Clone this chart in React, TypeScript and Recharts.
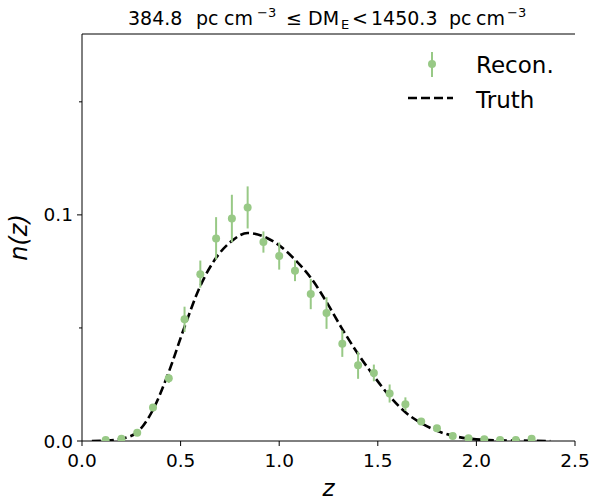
import {
  ComposedChart,
  Line,
  Scatter,
  ErrorBar,
  XAxis,
  YAxis,
  ReferenceLine,
} from "recharts";

const zRecon = [
  0.12, 0.2, 0.28, 0.36, 0.44, 0.52, 0.6, 0.68, 0.76, 0.84, 0.92, 1.0, 1.08,
  1.16, 1.24, 1.32, 1.4, 1.48, 1.56, 1.64, 1.72, 1.8, 1.88, 1.96, 2.04, 2.12,
  2.2, 2.28,
];
const nRecon = [
  0.0004, 0.001, 0.0037, 0.0148, 0.0277, 0.0538, 0.0738, 0.0896, 0.0984,
  0.1033, 0.088, 0.0818, 0.0753, 0.065, 0.0566, 0.043, 0.0335, 0.0301, 0.021,
  0.0163, 0.0086, 0.0056, 0.0022, 0.0012, 0.0008, 0.0004, 0.0004, 0.001,
];
const errRecon = [
  0.0002, 0.0003, 0.0008, 0.0012, 0.002, 0.0056, 0.006, 0.0094, 0.0105,
  0.0093, 0.0047, 0.006, 0.0046, 0.0067, 0.007, 0.0058, 0.006, 0.0037, 0.004,
  0.003, 0.001, 0.0008, 0.0004, 0.0003, 0.0002, 0.0001, 0.0001, 0.0002,
];

const zTruth = [
  0.05, 0.12, 0.2, 0.28, 0.36, 0.44, 0.52, 0.6, 0.68, 0.76, 0.84, 0.92, 1.0,
  1.08, 1.16, 1.24, 1.32, 1.4, 1.48, 1.56, 1.64, 1.72, 1.8, 1.88, 1.96, 2.04,
  2.12, 2.2, 2.3, 2.375,
];
const nTruth = [
  0, 0.0002, 0.001, 0.0039, 0.0138, 0.0305, 0.0505, 0.0686, 0.081, 0.0885,
  0.092, 0.0905, 0.0865, 0.0802, 0.0722, 0.0615, 0.0495, 0.0385, 0.0287,
  0.0198, 0.0127, 0.0079, 0.0045, 0.0023, 0.0011, 0.0005, 0.0003, 0.0002,
  0.0001, 0,
];

const xTicks = [0, 0.5, 1.0, 1.5, 2.0, 2.5];
const yTicks = [0, 0.05, 0.1, 0.15];
const yLabelled = [0, 0.1];
const yMax = 0.18;

const GREEN = "#98c986";
const FONT = "'DejaVu Sans', sans-serif";

const reconData = zRecon.map((z, i) => ({ z, n: nRecon[i], err: errRecon[i] }));
const truthData = zTruth.map((z, i) => ({ z, n: nTruth[i] }));

// major ticks get a label, minor ones are just shorter marks
const YTick = (props: any) => {
  const { x, y, payload } = props;
  const major = yLabelled.includes(payload.value);
  return (
    <g>
      <line x1={x - (major ? 5 : 3)} x2={x} y1={y} y2={y} stroke="#000" strokeWidth={1} />
      {major && (
        <text
          x={x - 9}
          y={y}
          textAnchor="end"
          dominantBaseline="central"
          fontSize={18.5}
          fontFamily={FONT}
          fill="#000"
        >
          {payload.value.toFixed(1)}
        </text>
      )}
    </g>
  );
};

const Dot = (props: any) => <circle cx={props.cx} cy={props.cy} r={4} fill={GREEN} />;

export default function App() {
  return (
    <div style={{ position: "absolute", left: 0, top: 0, width: 594, height: 502, background: "#fff" }}>
      <ComposedChart
        width={594}
        height={502}
        margin={{ top: 34, right: 19, bottom: 0, left: 10 }}
        style={{ fontFamily: FONT }}
      >
        <XAxis
          xAxisId="b"
          dataKey="z"
          type="number"
          domain={[0, 2.5]}
          ticks={xTicks}
          tickFormatter={(v: number) => v.toFixed(1)}
          height={61}
          tickSize={5}
          tickMargin={8}
          stroke="#000"
          tick={{ fill: "#000", fontSize: 18.5 }}
          allowDataOverflow
          label={{
            value: "z",
            position: "insideBottom",
            offset: 6,
            fontSize: 23,
            fontStyle: "italic",
            fill: "#000",
          }}
        />
        <YAxis
          yAxisId="l"
          type="number"
          domain={[0, yMax]}
          ticks={yTicks}
          width={72}
          tickSize={0}
          tickMargin={0}
          tickLine={false}
          tick={YTick}
          stroke="#000"
          allowDataOverflow
          label={{
            value: "n(z)",
            angle: -90,
            position: "insideLeft",
            offset: 8,
            fontSize: 24,
            fontStyle: "italic",
            fill: "#000",
            style: { textAnchor: "middle" },
          }}
        />
        <YAxis yAxisId="r" orientation="right" type="number" domain={[0, yMax]} width={0} tick={false} stroke="#000" />
        <ReferenceLine xAxisId="b" yAxisId="l" y={yMax} stroke="#000" strokeWidth={1} />
        <Line
          xAxisId="b"
          yAxisId="l"
          data={truthData}
          dataKey="n"
          type="monotone"
          stroke="#000"
          strokeWidth={2.6}
          strokeDasharray="9 4"
          dot={false}
          activeDot={false}
          isAnimationActive={false}
        />
        <Scatter
          xAxisId="b"
          yAxisId="l"
          data={reconData}
          dataKey="n"
          fill={GREEN}
          shape={Dot}
          isAnimationActive={false}
        >
          <ErrorBar dataKey="err" direction="y" width={0} stroke={GREEN} strokeWidth={2} />
        </Scatter>
      </ComposedChart>

      {/* title and legend drawn on top */}
      <svg
        width={594}
        height={502}
        style={{ position: "absolute", left: 0, top: 0, pointerEvents: "none", fontFamily: FONT }}
      >
        <text y={25} fontSize={19} fill="#000">
          <tspan x={128}>384.8</tspan>
          <tspan x={196}>pc</tspan>
          <tspan x={224}>cm</tspan>
          <tspan x={257} y={17} fontSize={13}>−3</tspan>
          <tspan x={286} y={25}>≤</tspan>
          <tspan x={308}>DM</tspan>
          <tspan x={341} y={29} fontSize={13}>E</tspan>
          <tspan x={352} y={25}>{"<"}</tspan>
          <tspan x={371}>1450.3</tspan>
          <tspan x={449}>pc</tspan>
          <tspan x={476}>cm</tspan>
          <tspan x={507} y={17} fontSize={13}>−3</tspan>
        </text>

        <line x1={432} x2={432} y1={52} y2={77} stroke={GREEN} strokeWidth={2} />
        <circle cx={432} cy={64} r={4} fill={GREEN} />
        <text x={476} y={73} fontSize={23} fill="#000">
          Recon.
        </text>
        <line x1={408} x2={453} y1={98} y2={98} stroke="#000" strokeWidth={2.6} strokeDasharray="9 4" />
        <text x={476} y={108} fontSize={23} fill="#000">
          Truth
        </text>
      </svg>
    </div>
  );
}
